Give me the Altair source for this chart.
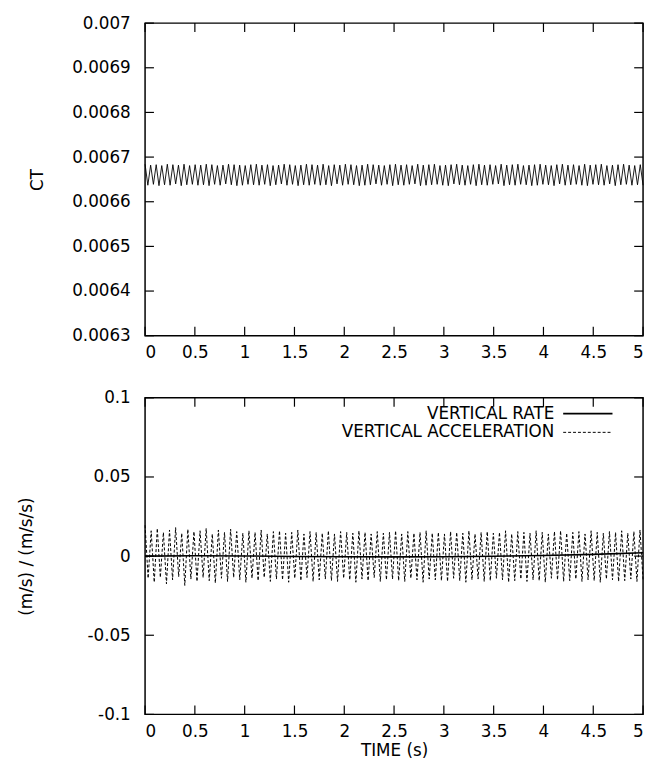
import altair as alt
import numpy as np
import pandas as pd

# ---------------- data ----------------
# CT oscillation extremes (units of 1e-6), alternating peak / trough per cycle
ct_hi = [6684, 6682, 6683, 6681, 6684, 6683, 6682, 6684, 6681, 6683,
         6682, 6684, 6683, 6681, 6682, 6684, 6683, 6682, 6681, 6683,
         6684, 6682, 6683, 6681, 6682, 6684, 6683, 6681, 6682, 6684,
         6683, 6682, 6684, 6681, 6683, 6682, 6684, 6683, 6681, 6682,
         6684, 6683, 6682, 6681, 6683, 6684, 6682, 6683, 6681, 6684,
         6682, 6683, 6684, 6681, 6682, 6683, 6684, 6682, 6681, 6683,
         6684, 6682, 6683, 6681, 6684, 6682, 6683, 6684, 6681, 6682,
         6683, 6684, 6682, 6681, 6683, 6684, 6682, 6683, 6681, 6684,
         6682, 6683, 6684, 6681, 6682, 6683, 6684, 6682, 6681, 6683]
ct_lo = [6637, 6639, 6636, 6638, 6637, 6640, 6636, 6638, 6639, 6637,
         6638, 6636, 6639, 6637, 6640, 6638, 6636, 6637, 6639, 6638,
         6637, 6639, 6636, 6638, 6640, 6637, 6639, 6636, 6638, 6637,
         6639, 6637, 6638, 6636, 6640, 6637, 6639, 6638, 6636, 6637,
         6638, 6640, 6637, 6639, 6636, 6638, 6637, 6639, 6640, 6636,
         6637, 6638, 6639, 6637, 6636, 6640, 6638, 6637, 6639, 6636,
         6638, 6637, 6639, 6640, 6636, 6638, 6637, 6639, 6638, 6636,
         6637, 6639, 6638, 6636, 6640, 6637, 6638, 6639, 6637, 6636,
         6639, 6638, 6637, 6640, 6636, 6638, 6639, 6637, 6638, 6637]

# vertical acceleration extremes (units of 1e-3)
acc_hi = [19.5, 16.0, 17.5, 15.0, 16.5, 18.0, 14.5, 17.0, 15.5, 16.0,
          17.5, 14.0, 16.5, 15.0, 17.0, 15.5, 14.5, 16.0, 15.0, 16.5,
          14.0, 15.5, 16.0, 14.5, 15.0, 16.5, 14.0, 15.5, 15.0, 14.5,
          16.0, 14.0, 15.5, 15.0, 14.5, 16.0, 15.0, 14.0, 15.5, 14.5,
          15.0, 16.0, 14.0, 15.5, 14.5, 15.0, 16.0, 14.5, 15.0, 14.0,
          15.5, 15.0, 14.5, 16.0, 14.0, 15.0, 15.5, 14.5, 15.0, 16.0,
          14.0, 15.5, 15.0, 14.5, 16.0, 15.0, 14.0, 15.5, 16.0, 14.5,
          15.0, 15.5, 14.0, 16.0, 15.0, 14.5, 15.5, 15.0, 16.0, 14.5,
          15.5, 16.5]
acc_lo = [-14.0, -16.5, -13.5, -17.5, -15.0, -13.0, -18.5, -14.5, -16.0, -13.5,
          -15.5, -17.0, -14.0, -16.0, -13.5, -15.0, -16.5, -14.0, -15.5, -13.5,
          -16.0, -14.5, -15.0, -16.5, -14.0, -15.5, -13.5, -16.0, -15.0, -14.5,
          -15.5, -16.0, -14.0, -15.0, -16.5, -14.5, -15.5, -13.5, -16.0, -15.0,
          -14.5, -15.5, -16.0, -14.0, -15.0, -16.5, -14.5, -15.0, -15.5, -16.0,
          -14.0, -15.5, -16.5, -15.0, -14.5, -16.0, -15.5, -14.0, -15.0, -16.5,
          -15.5, -14.5, -16.0, -15.0, -15.5, -16.5, -14.0, -15.0, -16.0, -15.5,
          -14.5, -16.0, -15.0, -15.5, -16.5, -14.5, -15.0, -16.0, -15.5, -14.5,
          -16.0, -15.0]

# vertical rate (m/s)
rate_t = [0.0, 0.5, 1.0, 1.5, 2.0, 2.5, 3.0, 3.5, 4.0, 4.5, 5.0]
rate_v = [0.0, 0.0002, 0.0001, -0.0002, -0.0004, -0.0005, -0.0004, -0.0001, 0.0004, 0.0011, 0.0021]

x_ticks = [0, 0.5, 1, 1.5, 2, 2.5, 3, 3.5, 4, 4.5, 5]
ct_ticks = [0.0063, 0.0064, 0.0065, 0.0066, 0.0067, 0.0068, 0.0069, 0.007]
acc_ticks = [-0.1, -0.05, 0, 0.05, 0.1]
legend_labels = ["VERTICAL RATE", "VERTICAL ACCELERATION"]

# ---------------- tables ----------------
ct_vals = np.column_stack([ct_hi, ct_lo]).ravel() / 1e6
ct_df = pd.DataFrame({"t": np.linspace(0, 5, len(ct_vals)), "ct": ct_vals})
acc_vals = np.column_stack([acc_hi, acc_lo]).ravel() / 1e3
acc_df = pd.DataFrame({"t": np.linspace(0, 5, len(acc_vals)), "a": acc_vals})
rate_df = pd.DataFrame({"t": rate_t, "r": rate_v})
xt_df = pd.DataFrame({"v": x_ticks})
ctt_df = pd.DataFrame({"v": ct_ticks})
acct_df = pd.DataFrame({"v": acc_ticks})

W = 505
H1 = 317
H2 = 321
TL = 9
FONT = "DejaVu Sans"
FS = 17
LBL = "'' + datum.value"

xscale = alt.Scale(domain=[0, 5], nice=False, zero=False)
yscale1 = alt.Scale(domain=[0.0063, 0.007], nice=False, zero=False)
yscale2 = alt.Scale(domain=[-0.1, 0.1], nice=False, zero=False)

xaxis_top = alt.Axis(values=x_ticks, labelExpr=LBL, title=None, labelPadding=9)
xaxis_bot = alt.Axis(values=x_ticks, labelExpr=LBL, title="TIME (s)", labelPadding=9, titlePadding=4)
yaxis_top = alt.Axis(values=ct_ticks, labelExpr=LBL, title="CT", labelPadding=15, titlePadding=26)
yaxis_bot = alt.Axis(values=acc_ticks, labelExpr=LBL, title="(m/s) / (m/s/s)",
                     labelPadding=15, titlePadding=52)


def tick_layers(ydf, yscale, yaxis, xaxis, H):
    lt = alt.Chart(ydf).mark_rule(color="black", strokeWidth=1.2).encode(
        y=alt.Y("v:Q", scale=yscale, axis=yaxis), x=alt.value(0), x2=alt.value(TL))
    rt = alt.Chart(ydf).mark_rule(color="black", strokeWidth=1.2).encode(
        y=alt.Y("v:Q", scale=yscale, axis=yaxis), x=alt.value(W - TL), x2=alt.value(W))
    bt = alt.Chart(xt_df).mark_rule(color="black", strokeWidth=1.2).encode(
        x=alt.X("v:Q", scale=xscale, axis=xaxis), y=alt.value(H - TL), y2=alt.value(H))
    tt = alt.Chart(xt_df).mark_rule(color="black", strokeWidth=1.2).encode(
        x=alt.X("v:Q", scale=xscale, axis=xaxis), y=alt.value(0), y2=alt.value(TL))
    return [lt, rt, bt, tt]


ct_line = alt.Chart(ct_df).mark_line(color="black", strokeWidth=0.9).encode(
    x=alt.X("t:Q", scale=xscale, axis=xaxis_top),
    y=alt.Y("ct:Q", scale=yscale1, axis=yaxis_top),
)
top = alt.layer(ct_line, *tick_layers(ctt_df, yscale1, yaxis_top, xaxis_top, H1)).properties(
    width=W, height=H1)

acc_line = alt.Chart(acc_df).mark_line(color="black", strokeWidth=1, strokeDash=[3, 2]).encode(
    x=alt.X("t:Q", scale=xscale, axis=xaxis_bot),
    y=alt.Y("a:Q", scale=yscale2, axis=yaxis_bot),
)
rate_line = alt.Chart(rate_df).mark_line(color="black", strokeWidth=1.6).encode(
    x=alt.X("t:Q", scale=xscale, axis=xaxis_bot),
    y=alt.Y("r:Q", scale=yscale2, axis=yaxis_bot),
)
leg_df = pd.DataFrame({"label": legend_labels})
leg1 = alt.Chart(leg_df.iloc[[0]]).mark_text(align="right", baseline="middle", font=FONT,
                                              fontSize=FS, color="black").encode(
    text="label:N", x=alt.value(415), y=alt.value(16))
leg2 = alt.Chart(leg_df.iloc[[1]]).mark_text(align="right", baseline="middle", font=FONT,
                                              fontSize=FS, color="black").encode(
    text="label:N", x=alt.value(415), y=alt.value(35))
legs1 = alt.Chart(leg_df.iloc[[0]]).mark_rule(color="black", strokeWidth=1.6).encode(
    x=alt.value(424), x2=alt.value(474), y=alt.value(16))
legs2 = alt.Chart(leg_df.iloc[[1]]).mark_rule(color="black", strokeWidth=1, strokeDash=[3, 2]).encode(
    x=alt.value(424), x2=alt.value(474), y=alt.value(35))

bottom = alt.layer(acc_line, rate_line, *tick_layers(acct_df, yscale2, yaxis_bot, xaxis_bot, H2),
                   leg1, leg2, legs1, legs2).properties(width=W, height=H2)

chart = alt.vconcat(top, bottom, spacing=27).properties(
    padding={"left": 9, "top": 0, "right": 0, "bottom": 0},
    background="white",
).configure_view(
    stroke="black", strokeWidth=1.5
).configure_axis(
    domain=False, ticks=False, grid=False,
    labelFont=FONT, labelFontSize=FS, labelColor="black",
    titleFont=FONT, titleFontSize=FS, titleFontWeight="normal", titleColor="black",
)

chart.save("out.html", embed_options={"renderer": "svg", "actions": False})
